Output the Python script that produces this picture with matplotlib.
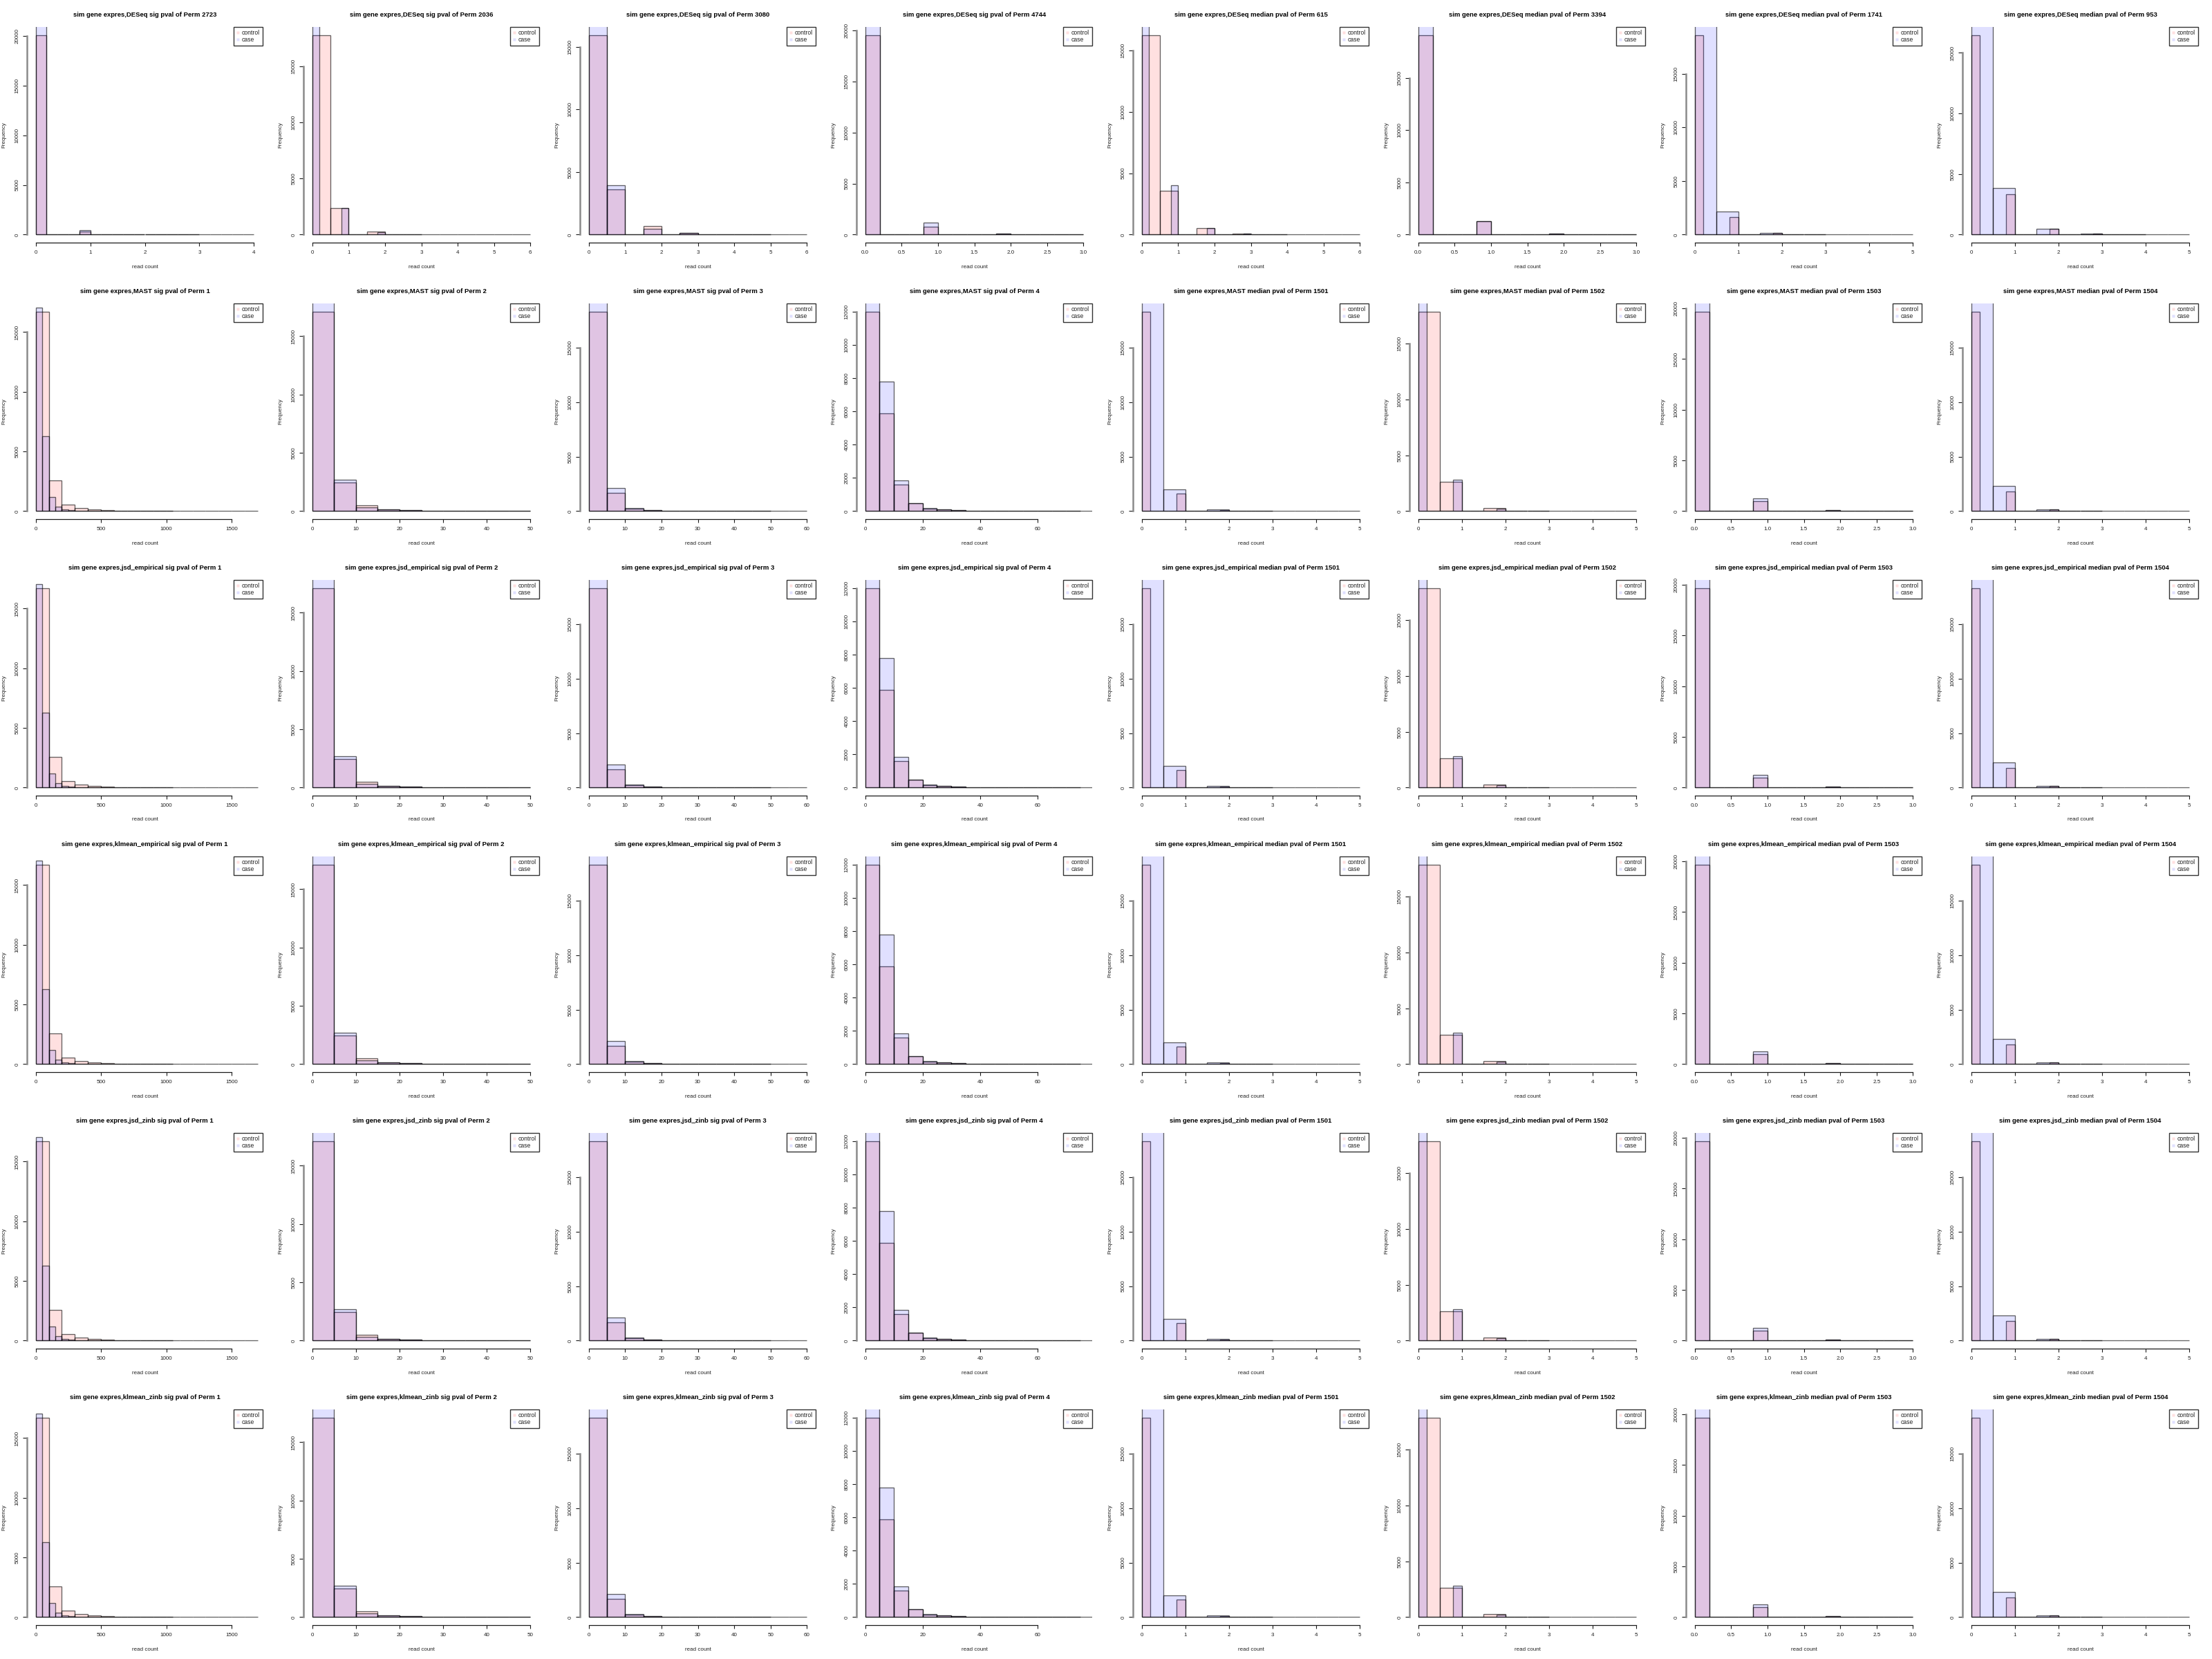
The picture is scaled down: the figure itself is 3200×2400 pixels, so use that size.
"""
Grid of overlaid read-count histograms (control vs case) per method and permutation.
"""

import matplotlib
matplotlib.use("Agg")
import matplotlib.pyplot as plt
import numpy as np
from matplotlib.lines import Line2D

plt.rcParams["font.family"] = ["Liberation Sans", "DejaVu Sans"]

# ---- panel labels ----
METHODS = ["DESeq", "MAST", "jsd_empirical", "klmean_empirical", "jsd_zinb", "klmean_zinb"]
KINDS = ["sig", "sig", "sig", "sig", "median", "median", "median", "median"]
DESEQ_PERMS = [2723, 2036, 3080, 4744, 615, 3394, 1741, 953]
OTHER_PERMS = [1, 2, 3, 4, 1501, 1502, 1503, 1504]

# ---- DESeq row: histogram bin widths and counts ----
DESEQ_CTRL_W = [0.2, 0.5, 0.5, 0.2, 0.5, 0.2, 0.2, 0.2]
DESEQ_CTRL_C = [
    [20115, 0, 0, 0, 320, 0, 0, 0, 0, 20, 0, 0, 0, 0, 5],
    [17770, 2340, 0, 265, 0, 15, 0, 2, 0, 0, 0, 0],
    [15935, 3620, 0, 660, 0, 110, 0, 15, 0, 5, 0, 0],
    [19570, 0, 0, 0, 770, 0, 0, 0, 0, 90, 0, 0, 0, 0, 5],
    [16256, 3545, 0, 545, 0, 75, 0, 20, 0, 0, 0, 0],
    [19100, 0, 0, 0, 1255, 0, 0, 0, 0, 90, 0, 0, 0, 0, 5],
    [18606, 0, 0, 0, 1630, 0, 0, 0, 0, 130, 0, 0, 0, 0, 20],
    [16480, 0, 0, 0, 3310, 0, 0, 0, 0, 456, 0, 0, 0, 0, 95, 0, 0, 0, 0, 20],
]
DESEQ_CASE_W = [0.2, 0.2, 0.5, 0.2, 0.2, 0.2, 0.5, 0.5]
DESEQ_CASE_C = [
    [21500, 0, 0, 0, 440, 0, 0, 0, 0, 25, 0, 0, 0, 0, 3, 0, 0, 0, 0, 0],
    [19500, 0, 0, 0, 2380, 0, 0, 0, 0, 205, 0, 0, 0, 0, 10],
    [17000, 3930, 0, 480, 0, 120, 0, 15, 0, 5],
    [21000, 0, 0, 0, 1175, 0, 0, 0, 0, 100, 0, 0, 0, 0, 5],
    [17500, 0, 0, 0, 4010, 0, 0, 0, 0, 545, 0, 0, 0, 0, 75, 0, 0, 0, 0, 25],
    [20500, 0, 0, 0, 1300, 0, 0, 0, 0, 95, 0, 0, 0, 0, 5],
    [19500, 2170, 0, 150, 0, 20, 0, 0, 0, 0],
    [17500, 3820, 0, 456, 0, 75, 0, 20, 0, 0],
]
DESEQ_XMAX = [4, 6, 6, 3, 6, 3, 5, 5]
DESEQ_XSTEP = [1, 1, 1, 0.5, 1, 0.5, 1, 1]
DESEQ_YSTEP = [5000] * 8

# ---- MAST / jsd / klmean rows (identical histograms) ----
OTHER_CTRL_W = [100, 5, 5, 5, 0.2, 0.5, 0.2, 0.2]
OTHER_CTRL_C = [
    [16733, 2548, 540, 270, 135, 77, 40, 20, 12, 8, 5, 3, 2, 1, 1, 1, 1],
    [17130, 2450, 514, 140, 60, 20, 8, 4, 2, 1],
    [18345, 1672, 250, 60, 20, 8, 4, 2, 1, 1],
    [12010, 5896, 1578, 460, 150, 85, 45, 20, 12, 8, 5, 3, 2, 1, 1],
    [18300, 0, 0, 0, 1600, 0, 0, 0, 0, 120, 0, 0, 0, 0, 15],
    [17900, 2600, 0, 250, 0, 15, 0, 2, 0, 0],
    [19700, 0, 0, 0, 1000, 0, 0, 0, 0, 90, 0, 0, 0, 0, 5],
    [18300, 0, 0, 0, 1800, 0, 0, 0, 0, 150, 0, 0, 0, 0, 15],
]
OTHER_CASE_W = [50, 5, 5, 5, 0.5, 0.2, 0.2, 0.5]
OTHER_CASE_C = [
    [17061, 6290, 1177, 386, 154, 77, 50, 30, 20, 15, 10, 7, 5, 4, 3, 2, 2, 1, 1, 1, 1],
    [18500, 2707, 316, 140, 60, 20, 8, 4, 2, 1],
    [19500, 2137, 280, 60, 20, 8, 4, 2, 1, 1, 0, 0],
    [13000, 7806, 1855, 470, 190, 85, 45, 20, 12, 8, 5, 3, 2, 1, 1, 1],
    [19500, 2000, 0, 130, 0, 15, 0, 0, 0, 0],
    [19200, 0, 0, 0, 2800, 0, 0, 0, 0, 220, 0, 0, 0, 0, 10],
    [21000, 0, 0, 0, 1250, 0, 0, 0, 0, 100, 0, 0, 0, 0, 5],
    [19500, 2300, 0, 150, 0, 15, 0, 0, 0, 0],
]
OTHER_XMAX = [1670, 50, 60, 76, 5, 5, 3, 5]
OTHER_XSTEP = [500, 10, 10, 20, 1, 1, 0.5, 1]
OTHER_YSTEP = [5000, 5000, 5000, 2000, 5000, 5000, 5000, 5000]

CTRL_FILL = (1.0, 0.0, 0.0, 0.12)
CASE_FILL = (0.0, 0.0, 1.0, 0.12)
EDGE = (0.0, 0.0, 0.0, 0.6)

# cell geometry in pixels (each panel occupies a 400x400 cell)
FIG_W, FIG_H = 3200, 2400
CELL = 400
PL, PR, PT, PB = 39, 380, 39, 351
AX_W, AX_H = PR - PL, PB - PT

FS_TITLE = 6.8
FS_TEXT = 5.8


def draw_panel(ax, title, ctrl_w, ctrl_c, case_w, case_c, xmax, xstep, ystep):
    ymax = max(ctrl_c)
    for w, c, fill in ((ctrl_w, ctrl_c, CTRL_FILL), (case_w, case_c, CASE_FILL)):
        left = np.arange(len(c)) * w
        ax.bar(left, c, width=w, align="edge", color=fill,
               edgecolor=EDGE, linewidth=0.95)

    ax.set_xlim(-0.04 * xmax, 1.04 * xmax)
    ax.set_ylim(-0.04 * ymax, 1.04 * ymax)

    xt = np.arange(0, 1.04 * xmax + 1e-9, xstep)
    yt = np.arange(0, 1.04 * ymax + 1e-9, ystep)
    ax.set_xticks(xt)
    ax.set_yticks(yt)
    if xstep < 1:
        ax.set_xticklabels([f"{v:.1f}" for v in xt])
    else:
        ax.set_xticklabels([f"{v:g}" for v in xt])
    ax.set_yticklabels([f"{int(v)}" for v in yt])

    for s in ("top", "right"):
        ax.spines[s].set_visible(False)
    ax.spines["bottom"].set_bounds(xt[0], xt[-1])
    ax.spines["left"].set_bounds(yt[0], yt[-1])
    ax.spines["bottom"].set_color("#1a1a1a")
    ax.spines["bottom"].set_linewidth(0.9)
    ax.spines["left"].set_color("#8a8a8a")
    ax.spines["left"].set_linewidth(1.8)

    ax.tick_params(axis="x", direction="out", length=3.6, width=0.8,
                   pad=4.0, labelsize=FS_TEXT, color="#1a1a1a", labelcolor="#222")
    ax.tick_params(axis="y", direction="out", length=4.3, width=0.8,
                   pad=3.0, labelsize=FS_TEXT, color="#1a1a1a", labelcolor="#222")
    for lab in ax.get_yticklabels():
        lab.set_rotation(90)
        lab.set_va("center")
        lab.set_ha("right")

    ax.set_title(title, fontsize=FS_TITLE, fontweight="bold", pad=10.8)
    ax.text(0.5, -35 / AX_H, "read count", transform=ax.transAxes,
            ha="center", va="center", fontsize=FS_TEXT, color="#222")
    ax.text(-33 / AX_W, 0.5, "Frequency", transform=ax.transAxes,
            ha="center", va="center", rotation=90, fontsize=FS_TEXT, color="#222")

    handles = [
        Line2D([], [], ls="", marker="s", markersize=2.6, color=CTRL_FILL,
               markeredgecolor="none"),
        Line2D([], [], ls="", marker="s", markersize=2.6, color=CASE_FILL,
               markeredgecolor="none"),
    ]
    leg = ax.legend(handles, ["control", "case"], loc="upper right",
                    bbox_to_anchor=(1.0, 1.0), borderaxespad=0.0,
                    fontsize=6.2, fancybox=False, framealpha=1.0,
                    edgecolor="#333333", borderpad=0.45, labelspacing=0.12,
                    handlelength=0.5, handletextpad=0.5)
    leg.get_frame().set_linewidth(1.0)
    for t in leg.get_texts():
        t.set_color("#222")


fig = plt.figure(figsize=(FIG_W / 100, FIG_H / 100), dpi=100, facecolor="white")

for r, method in enumerate(METHODS):
    for c in range(8):
        x0 = (c * CELL + PL) / FIG_W
        y0 = 1 - (r * CELL + PB) / FIG_H
        ax = fig.add_axes([x0, y0, AX_W / FIG_W, AX_H / FIG_H])
        if method == "DESeq":
            perm = DESEQ_PERMS[c]
            args = (DESEQ_CTRL_W[c], DESEQ_CTRL_C[c], DESEQ_CASE_W[c], DESEQ_CASE_C[c],
                    DESEQ_XMAX[c], DESEQ_XSTEP[c], DESEQ_YSTEP[c])
        else:
            perm = OTHER_PERMS[c]
            args = (OTHER_CTRL_W[c], OTHER_CTRL_C[c], OTHER_CASE_W[c], OTHER_CASE_C[c],
                    OTHER_XMAX[c], OTHER_XSTEP[c], OTHER_YSTEP[c])
        title = f"sim gene expres,{method} {KINDS[c]} pval of Perm {perm}"
        draw_panel(ax, title, *args)

fig.savefig("out.png", dpi=100, facecolor="white")
